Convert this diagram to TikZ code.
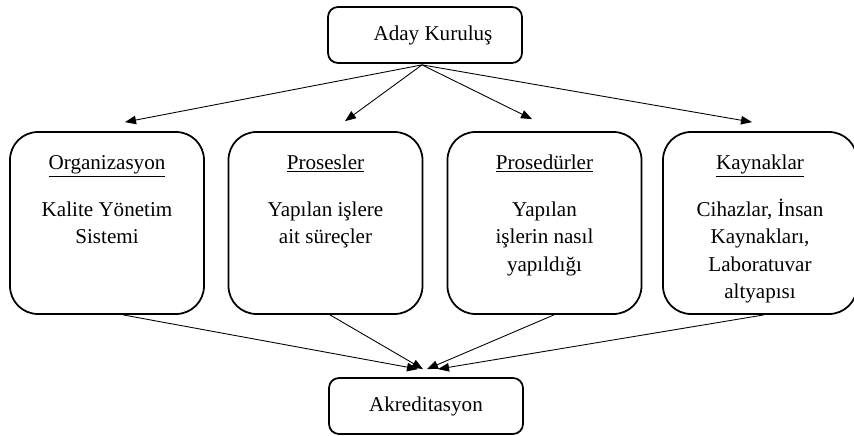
\documentclass[tikz,border=0pt]{standalone}
\usepackage{fontspec}
\setmainfont{Liberation Serif}
\usetikzlibrary{calc}
\usetikzlibrary{positioning}
\usetikzlibrary{arrows.meta}

\begin{document}
\begin{tikzpicture}[
  small box/.style = {draw, line width = 1pt, rounded corners = .2cm,
    minimum width = 3.88cm, minimum height = 1.12cm, inner sep = 0pt},
  big box/.style = {draw, line width = 1pt, rounded corners = .56cm,
    minimum width = 3.88cm, minimum height = 3.64cm, inner sep = 0pt},
  title/.style = {inner sep = 0pt},
  body/.style = {inner sep = 0pt, align = center},
  link/.style = {line width = .5pt, -{Triangle[length = .22cm, width = .17cm]}},
  font = \fontsize{12pt}{15.6pt}\selectfont
  ]
  \useasboundingbox (0, 0) rectangle (17.08, -8.72);

  \node[small box] (aday) at (8.5, -.7) {\hspace*{.32cm}Aday Kuruluş};
  \node[small box] (akr) at (8.52, -8.12) {Akreditasyon};

  \node[big box] (org) at (2.14, -4.46) {};
  \node[big box] (pro) at (6.51, -4.46) {};
  \node[big box] (prd) at (10.89, -4.46) {};
  \node[big box] (kay) at (15.2, -4.46) {};

  \node[title, anchor = base] (orgT) at ($(org.north) + (0, -.76)$) {\underline{Organizasyon}};
  \node[title, anchor = base] (proT) at ($(pro.north) + (0, -.76)$) {\underline{Prosesler}};
  \node[title, anchor = base] (prdT) at ($(prd.north) + (0, -.76)$) {\underline{Prosedürler}};
  \node[title, anchor = base] (kayT) at ($(kay.north) + (0, -.76)$) {\underline{Kaynaklar}};

  % base of a multi-line node is its last line
  \node[body, below = 1.49cm of orgT.base, anchor = base] (orgB) {Kalite Yönetim\\Sistemi};
  \node[body, below = 1.49cm of proT.base, anchor = base] (proB) {Yapılan işlere\\ait süreçler};
  \node[body, below = 2.04cm of prdT.base, anchor = base] (prdB) {Yapılan\\işlerin nasıl\\yapıldığı};
  \node[body, below = 2.59cm of kayT.base, anchor = base] (kayB) {Cihazlar, İnsan\\Kaynakları,\\Laboratuvar\\altyapısı};

  \coordinate (start) at ($(aday.south) + (-.06, -.02)$);

  \draw[link] (start) -- ($(org.north) + (.36, .18)$);
  \draw[link] (start) -- ($(pro.north) + (.39, .2)$);
  \draw[link] (start) -- ($(prd.north) + (-.25, .24)$);
  \draw[link] (start) -- ($(kay.north) + (-.16, .18)$);

  \draw[link] ($(org.south) + (.32, 0)$) -- ($(akr.north) + (-.16, .16)$);
  \draw[link] ($(pro.south) + (.09, 0)$) -- ($(akr.north) + (-.06, .16)$);
  \draw[link] ($(prd.south) + (.19, 0)$) -- ($(akr.north) + (.02, .16)$);
  \draw[link] ($(kay.south) + (.08, 0)$) -- ($(akr.north) + (.24, .16)$);
\end{tikzpicture}
\end{document}
